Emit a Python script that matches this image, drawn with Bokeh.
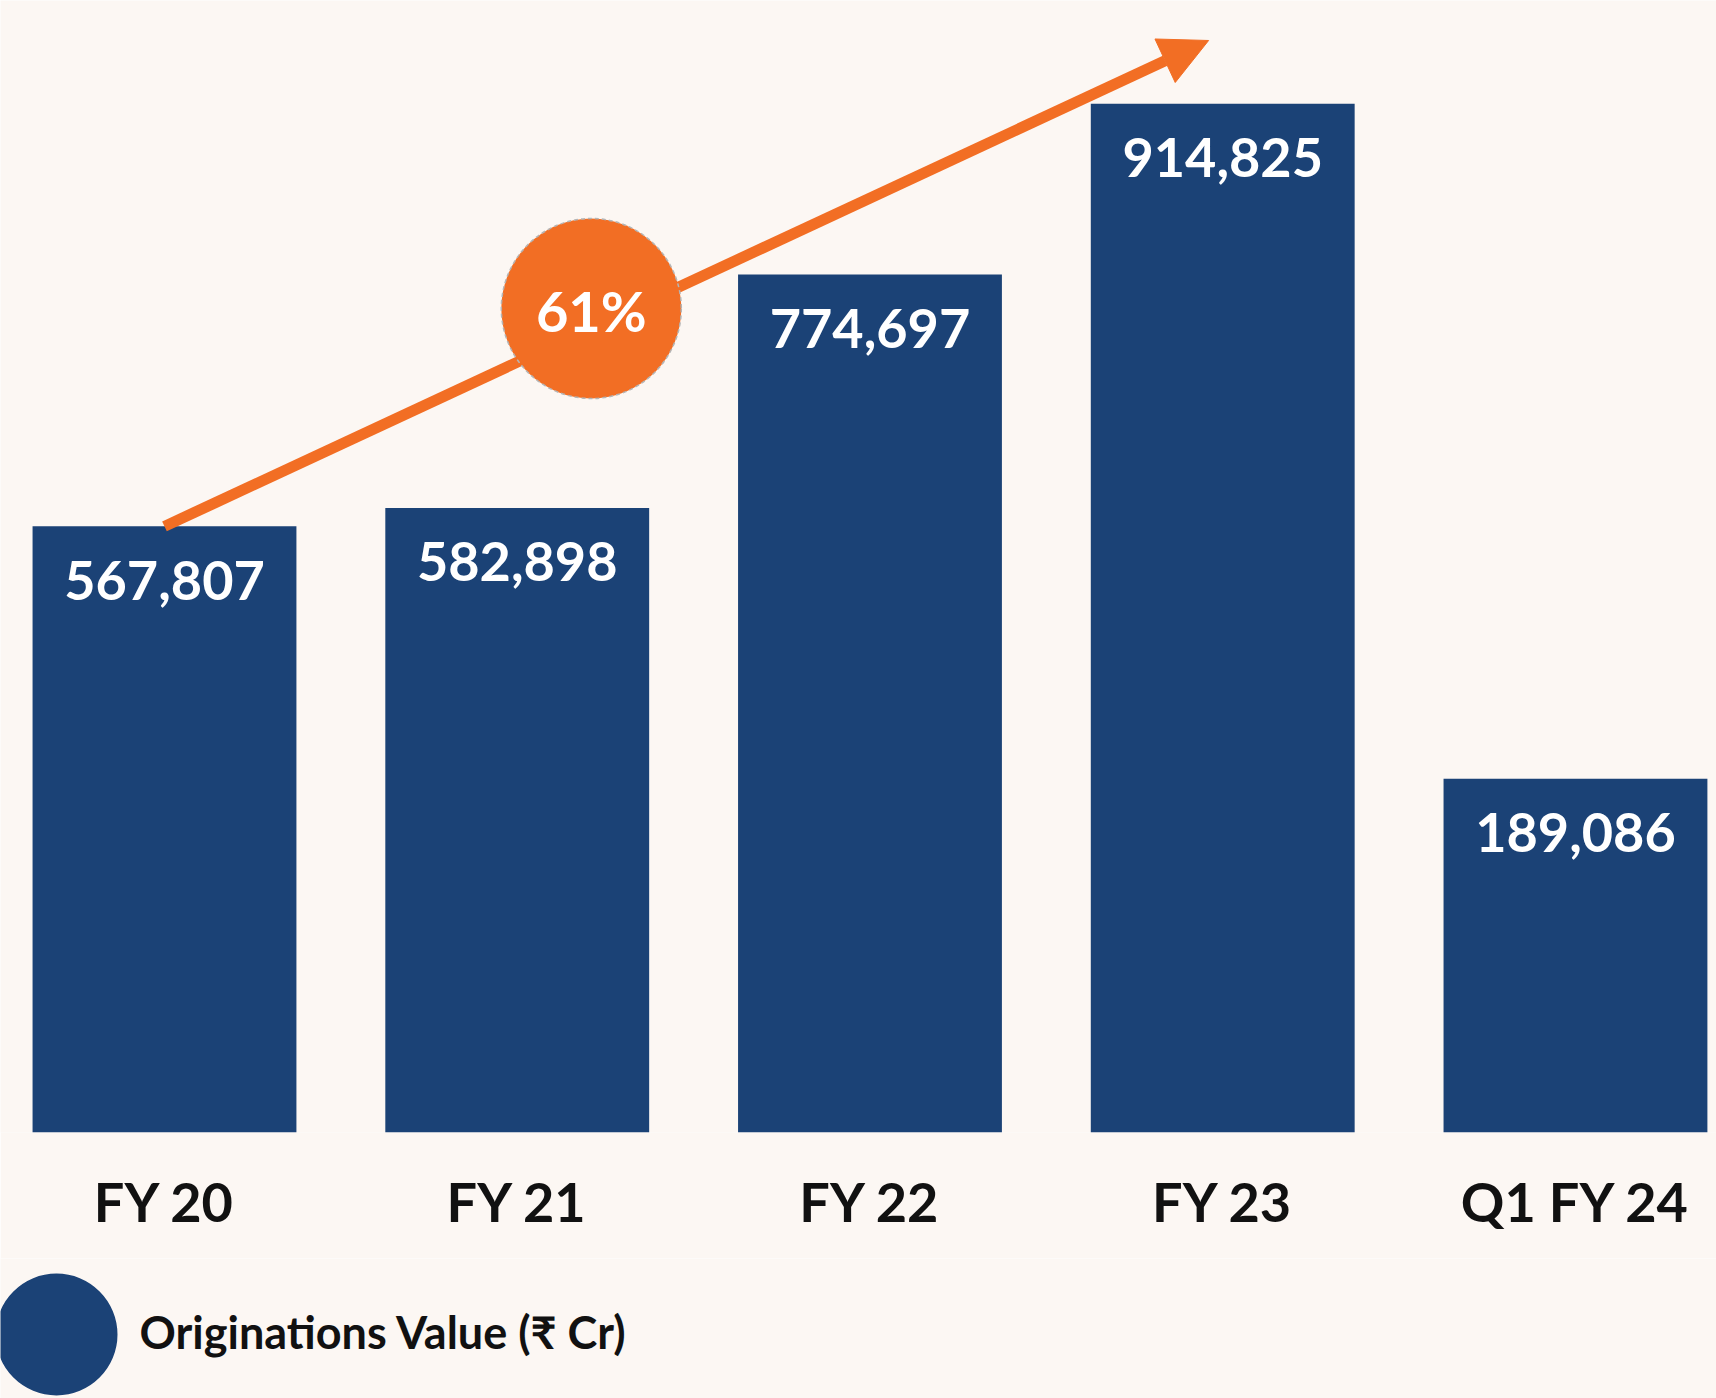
from bokeh.plotting import figure
from bokeh.models import Range1d, FixedTicker, Arrow, NormalHead, ColumnDataSource
from bokeh.layouts import column
from bokeh.core.properties import value
from bokeh.embed import file_html
from bokeh.resources import INLINE

# ---- data ----
categories = ["FY 20", "FY 21", "FY 22", "FY 23", "Q1 FY 24"]
annual_values = [567807, 582898, 774697, 914825]     # FY 20 .. FY 23
quarter_values = [189086]                            # Q1 FY 24
growth_label = "61%"
legend_label = "Originations Value (\u20b9 Cr)"

# ---- style ----
BG = "#FCF7F3"
BAR = "#1B4276"
ORANGE = "#F26E24"
INK = "#111111"
FONT = value("Lato")

fy_x = list(range(len(annual_values)))
q_x = [len(annual_values) + i for i in range(len(quarter_values))]

p = figure(width=1716, height=1258,
           x_range=Range1d(-0.4649, 4.3998), y_range=Range1d(70000, 999700),
           output_backend="svg", toolbar_location=None,
           y_axis_location=None,
           min_border_left=0, min_border_right=0, min_border_top=0, min_border_bottom=126,
           background_fill_color=BG, border_fill_color=BG, outline_line_color=None)
p.extra_y_ranges = {"q": Range1d(0, 605150)}
p.xgrid.visible = False
p.ygrid.visible = False

ax = p.xaxis[0]
ax.ticker = FixedTicker(ticks=list(range(len(categories))))
ax.major_label_overrides = {i: c for i, c in enumerate(categories)}
ax.axis_line_color = None
ax.major_tick_line_color = None
ax.minor_tick_line_color = None
ax.major_tick_out = 0
ax.major_label_standoff = 36
ax.major_label_text_font = "Lato"
ax.major_label_text_font_style = "bold"
ax.major_label_text_font_size = "54px"
ax.major_label_text_color = INK

src_fy = ColumnDataSource(dict(x=fy_x, top=annual_values,
                               label=[f"{v:,}" for v in annual_values]))
src_q = ColumnDataSource(dict(x=q_x, top=quarter_values,
                              label=[f"{v:,}" for v in quarter_values]))

BAR_W = 0.748
p.vbar(x="x", top="top", bottom=0, width=BAR_W, source=src_fy,
       fill_color=BAR, line_color=None)
p.vbar(x="x", top="top", bottom=0, width=BAR_W, source=src_q,
       fill_color=BAR, line_color=None, y_range_name="q")

lbl_kw = dict(text="label", text_align="center", text_baseline="alphabetic",
              y_offset=54, text_color="white", text_font=FONT,
              text_font_style="bold", text_font_size="54px")
p.text(x="x", y="top", source=src_fy, **lbl_kw)
p.text(x="x", y="top", source=src_q, y_range_name="q", **lbl_kw)

# growth arrow
p.add_layout(Arrow(end=NormalHead(size=48, fill_color=ORANGE, line_color=ORANGE, line_width=1),
                   x_start=fy_x[0], y_start=annual_values[0],
                   x_end=2.96, y_end=966850,
                   line_color=ORANGE, line_width=11))

# growth badge
BADGE_X, BADGE_Y = 1.21, 746740
p.scatter(x=[BADGE_X], y=[BADGE_Y], marker="circle", size=180,
          fill_color=ORANGE, line_color="#b5b5b5", line_dash="4 3", line_width=1.5,
          level="overlay")
p.text(x=[BADGE_X], y=[BADGE_Y], text=[growth_label], text_align="center",
       text_baseline="alphabetic", y_offset=2, text_color="white", text_font=FONT,
       text_font_style="bold", text_font_size="56px", level="overlay")

# legend strip
leg = figure(width=1716, height=140, x_range=Range1d(0, 1716), y_range=Range1d(0, 140),
             x_axis_location=None, y_axis_location=None, toolbar_location=None,
             output_backend="svg", min_border=0,
             background_fill_color=BG, border_fill_color=BG, outline_line_color=None)
leg.xgrid.visible = False
leg.ygrid.visible = False
leg.circle(x=[56], y=[64], radius=61, fill_color=BAR, line_color=None)
leg.text(x=[139], y=[67], text=[legend_label], text_align="left",
         text_baseline="alphabetic", text_color=INK, text_font=FONT,
         text_font_style="bold", text_font_size="45px")

layout = column(p, leg, spacing=0)
open("out.html", "w").write(file_html(layout, INLINE))
